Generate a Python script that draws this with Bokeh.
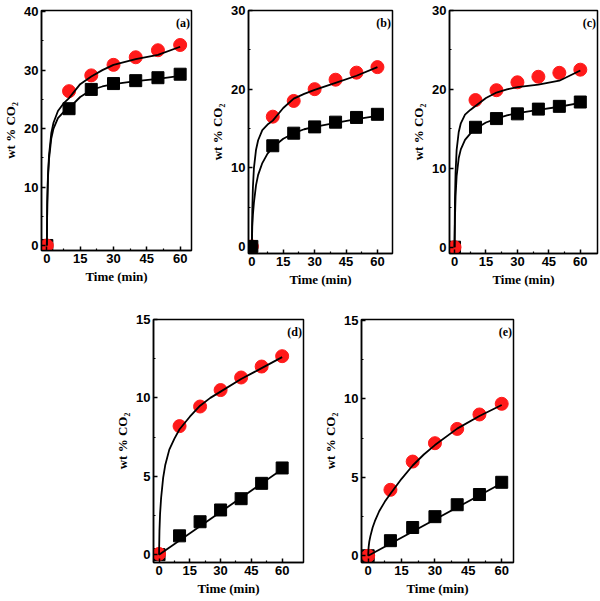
from bokeh.plotting import figure
from bokeh.layouts import row, column, Spacer
from bokeh.models import Range1d, FixedTicker, Label
from bokeh.embed import file_html
from bokeh.resources import INLINE

# ---------------- data ----------------
time_pts = [0, 10, 20, 30, 40, 50, 60]
fit_t = [0, 0.2, 0.5, 1, 2, 3, 5, 7.5, 10, 15, 20, 25, 30, 40, 50, 60]
lin_t = [0, 60]

x_ticks = [0, 15, 30, 45, 60]
x_minor = [7.5, 22.5, 37.5, 52.5]

a_circle = [0.0, 26.4, 29.1, 30.9, 32.2, 33.4, 34.3]
a_square = [0.0, 23.4, 26.7, 27.7, 28.2, 28.7, 29.3]
a_circle_fit = [0, 7.5, 12.0, 15.5, 19.2, 21.0, 23.0, 24.3, 25.2, 27.6, 28.9, 30.0, 30.9, 31.9, 32.6, 34.0]
a_square_fit = [0, 7.0, 11.5, 14.8, 18.3, 20.0, 21.8, 22.8, 23.5, 25.4, 26.6, 27.2, 27.6, 28.1, 28.5, 29.0]

b_circle = [0.0, 16.5, 18.5, 20.0, 21.2, 22.1, 22.8]
b_square = [0.0, 12.8, 14.4, 15.2, 15.8, 16.4, 16.8]
b_circle_fit = [0, 4.5, 7.5, 10.0, 12.3, 13.5, 14.8, 15.5, 16.0, 17.6, 18.8, 19.4, 19.9, 20.8, 21.7, 22.8]
b_square_fit = [0, 2.5, 4.0, 5.6, 7.8, 9.1, 10.6, 11.8, 12.6, 13.7, 14.4, 14.9, 15.2, 15.7, 16.2, 16.6]

c_circle = [0.0, 18.65, 19.9, 20.9, 21.6, 22.1, 22.5]
c_square = [0.0, 15.2, 16.3, 16.9, 17.5, 17.85, 18.4]
c_circle_fit = [0, 6.0, 9.5, 12.3, 14.6, 15.7, 16.8, 17.4, 17.9, 18.9, 19.6, 20.0, 20.3, 20.6, 21.1, 22.4]
c_square_fit = [0, 3.5, 6.5, 9.0, 11.3, 12.4, 13.6, 14.4, 15.0, 15.8, 16.3, 16.7, 17.0, 17.4, 17.8, 18.3]

d_circle = [0.05, 8.2, 9.45, 10.5, 11.3, 12.0, 12.66]
d_square = [0.0, 1.2, 2.1, 2.85, 3.57, 4.55, 5.53]
d_circle_fit = [0, 1.5, 2.6, 3.6, 4.9, 5.7, 6.7, 7.4, 8.0, 8.8, 9.5, 10.0, 10.4, 11.2, 11.9, 12.6]
d_square_fit = [0, 5.45]

e_circle = [0.0, 4.2, 6.0, 7.17, 8.08, 9.0, 9.68]
e_square = [0.0, 0.96, 1.8, 2.49, 3.25, 3.9, 4.68]
e_circle_fit = [0, 0.55, 0.9, 1.25, 1.8, 2.2, 2.85, 3.45, 3.95, 4.9, 5.75, 6.45, 7.05, 8.1, 8.9, 9.6]
e_square_fit = [0, 4.62]

y_ticks_40 = [0, 10, 20, 30, 40]
y_minor_40 = [5, 15, 25, 35]
y_ticks_30 = [0, 10, 20, 30]
y_minor_30 = [5, 15, 25]
y_ticks_15 = [0, 5, 10, 15]
y_minor_15 = [2.5, 7.5, 12.5]


def panel(tag, circ, sq, circ_fit, sq_t, sq_fit, xr, yr, yt, ym,
          fw, fh, bl, br, bt, bb, square_on_top=False):
    p = figure(frame_width=fw, frame_height=fh,
               min_border_left=bl, min_border_right=br,
               min_border_top=bt, min_border_bottom=bb,
               x_range=Range1d(*xr), y_range=Range1d(*yr),
               output_backend="svg", toolbar_location=None)
    p.xgrid.visible = False
    p.ygrid.visible = False
    p.background_fill_color = "white"
    p.border_fill_color = "white"
    p.outline_line_color = "black"
    p.outline_line_width = 1.5
    p.outline_line_alpha = 1.0

    p.xaxis.ticker = FixedTicker(ticks=x_ticks, minor_ticks=x_minor)
    p.yaxis.ticker = FixedTicker(ticks=yt, minor_ticks=ym)
    for ax in (p.xaxis[0], p.yaxis[0]):
        ax.major_tick_in = 4
        ax.major_tick_out = 0
        ax.minor_tick_in = 2
        ax.minor_tick_out = 0
        ax.axis_line_width = 1.5
        ax.major_tick_line_width = 1.5
        ax.minor_tick_line_width = 1.2
        ax.axis_line_color = "black"
        ax.major_tick_line_color = "black"
        ax.minor_tick_line_color = "black"
        ax.major_label_text_font = "Liberation Sans"
        ax.major_label_text_font_style = "bold"
        ax.major_label_text_font_size = "13px"
        ax.major_label_text_color = "black"
        ax.major_label_standoff = 3
        ax.axis_label_text_font = "Liberation Serif"
        ax.axis_label_text_font_style = "bold"
        ax.axis_label_text_font_size = "13px"
        ax.axis_label_text_color = "black"
        ax.axis_label_standoff = 3
    p.xaxis.axis_label = "Time (min)"
    p.yaxis.axis_label = "wt % CO\u2082"

    if square_on_top:
        p.scatter(time_pts, circ, marker="circle", size=13, fill_color="#ff1a1a", line_color="#ff1a1a")
        p.scatter(time_pts, sq, marker="square", size=12, fill_color="black", line_color="black")
    else:
        p.scatter(time_pts, sq, marker="square", size=12, fill_color="black", line_color="black")
        p.scatter(time_pts, circ, marker="circle", size=13, fill_color="#ff1a1a", line_color="#ff1a1a")
    p.line(fit_t, circ_fit, line_color="black", line_width=1.8)
    p.line(sq_t, sq_fit, line_color="black", line_width=1.8)

    ly = yr[1] - 5.0 / fh * (yr[1] - yr[0])
    lx = xr[1] - 1.5 / fw * (xr[1] - xr[0])
    p.add_layout(Label(x=lx, y=ly, text=tag, text_align="right", text_baseline="top",
                       text_font="Liberation Serif", text_font_style="bold",
                       text_font_size="12px", text_color="black"))
    return p


fa = panel("(a)", a_circle, a_square, a_circle_fit, fit_t, a_square_fit,
           (-2.4, 65.1), (-0.86, 40.2), y_ticks_40, y_minor_40,
           150, 240, 38, 12, 7, 49)
fb = panel("(b)", b_circle, b_square, b_circle_fit, fit_t, b_square_fit,
           (-1.6, 67.2), (-0.9, 30.0), y_ticks_30, y_minor_30,
           144, 243, 45, 12, 10, 43, square_on_top=True)
fc = panel("(c)", c_circle, c_square, c_circle_fit, fit_t, c_square_fit,
           (-2.4, 68.2), (-0.8, 30.0), y_ticks_30, y_minor_30,
           148, 243, 45, 3, 10, 43)
fd = panel("(d)", d_circle, d_square, d_circle_fit, lin_t, d_square_fit,
           (-2.7, 70.4), (-0.5, 15.0), y_ticks_15, y_minor_15,
           150, 243, 40, 13, 23, 35)
fe = panel("(e)", e_circle, e_square, e_circle_fit, lin_t, e_square_fit,
           (-3.0, 65.3), (-0.43, 15.05), y_ticks_15, y_minor_15,
           152, 243, 45, 5, 23, 35)

layout = column(row(fa, fb, fc), row(Spacer(width=112, height=10), fd, fe))

open("out.html", "w").write(file_html(layout, INLINE))
